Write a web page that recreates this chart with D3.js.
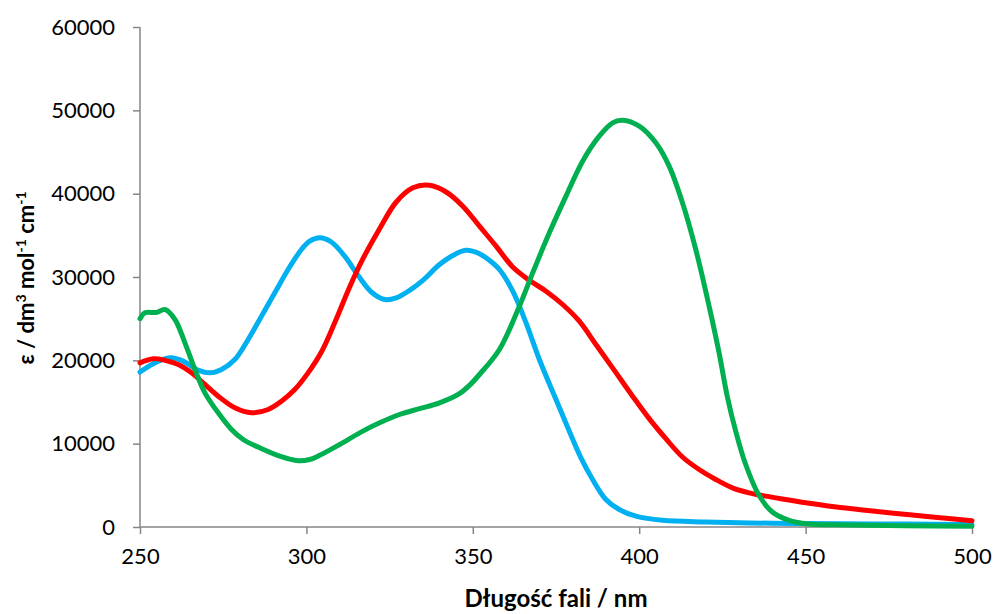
<!DOCTYPE html>
<html><head><meta charset="utf-8">
<script src="https://cdn.jsdelivr.net/npm/d3@7"></script>
<style>body{margin:0;background:#fff}svg{display:block}</style>
</head><body>
<svg id="c" width="993" height="614"></svg>
<script>
const xTicks = [250, 300, 350, 400, 450, 500];
const yTicks = [0, 10000, 20000, 30000, 40000, 50000, 60000];
const xTitle = "Długość fali / nm";

const blueX = [250,254,259,263,267,271,274.5,278.5,282.5,286.5,290.5,294.5,298.5,301,304,307.5,311.5,315.5,319.5,323.5,327,331,335,340,345,348,352,355,358,362,366,370,375,379,382.5,386,390,394,399,407,420,440,460,480,500];
const blueY = [18600,19600,20300,19900,18900,18500,18900,20100,22500,25300,28100,30900,33300,34300,34700,34200,32500,30200,28200,27300,27500,28400,29600,31500,32800,33200,32800,32000,30900,28300,24500,20100,15300,11500,8300,5700,3300,2100,1300,800,600,450,400,350,300];

const redX = [250,254,257.5,261.5,265.5,269.5,273.5,278.5,283.5,288.5,292.5,296.5,300.5,304.5,308.5,313,317,322,327,332,337,342,347,352,357,362,367,372,377,382,387,392,398,403,408,413,418,423,428,433,438,443,450,458,468,478,488,500];
const redY = [19700,20200,20000,19500,18500,17100,15700,14300,13700,14100,15100,16500,18500,21000,24500,28800,32200,35800,39000,40700,41000,40200,38500,36100,33700,31200,29600,28300,26700,24700,21900,19100,15700,13000,10600,8400,6900,5700,4700,4100,3700,3350,2900,2450,2000,1600,1200,750];

const greenX = [250,251.5,255,257.5,260.5,263.5,266.5,269.5,273.5,277.5,281,286,292,297.5,301,304,310,316,322,328,334,340,346,349,352,358,364,368,373,378,383,388,392,395,400,405,409,413,417,421,424,426.5,429,432,436,440,445,450,463,480,500];
const greenY = [25000,25700,25750,26100,24900,22100,18900,16100,13700,11700,10500,9500,8500,7950,8100,8600,9900,11300,12500,13500,14200,14900,16000,17000,18300,21300,26500,30500,35300,39700,43900,46900,48500,48800,48100,46100,43300,38900,33300,26500,20900,15600,11500,7500,3800,1800,800,400,250,150,100];

const svg = d3.select("#c");
const x = d3.scaleLinear().domain([250, 500]).range([140, 972]);
const y = d3.scaleLinear().domain([0, 60000]).range([527, 27]);
const axisColor = "#868686";
const font = "Lato, 'Open Sans', sans-serif";

const ya = svg.append("g").attr("transform", "translate(140,0)")
  .call(d3.axisLeft(y).tickValues(yTicks).tickSize(7).tickPadding(18).tickFormat(d3.format("d")));
const xa = svg.append("g").attr("transform", "translate(0,527)")
  .call(d3.axisBottom(x).tickValues(xTicks).tickSize(7).tickPadding(14).tickFormat(d3.format("d")));
[ya, xa].forEach(a => {
  a.select(".domain").attr("stroke", axisColor).attr("stroke-width", 1.5);
  a.selectAll(".tick line").attr("stroke", axisColor).attr("stroke-width", 1.5);
  a.selectAll(".tick text").attr("fill", "#000").style("font-family", font).style("font-size", "22px");
});
xa.select(".domain").attr("d", "M140,0H972");
ya.select(".domain").attr("d", "M0,527V27");

const line = d3.line().x(d => x(d[0])).y(d => y(d[1])).curve(d3.curveCatmullRom.alpha(0.5));
const series = [
  {xs: blueX, ys: blueY, color: "#00B0F0"},
  {xs: redX, ys: redY, color: "#FF0000"},
  {xs: greenX, ys: greenY, color: "#00B050"}
];
series.forEach(s => {
  svg.append("path").datum(s.xs.map((v, i) => [v, s.ys[i]]))
    .attr("d", line).attr("fill", "none").attr("stroke", s.color)
    .attr("stroke-width", 5).attr("stroke-linejoin", "round").attr("stroke-linecap", "round");
});

svg.append("text").attr("x", 556).attr("y", 607).attr("text-anchor", "middle")
  .style("font-family", font).style("font-weight", "bold").style("font-size", "24px").text(xTitle);

const yt = svg.append("text").attr("transform", "translate(34,278) rotate(-90)").attr("text-anchor", "middle")
  .style("font-family", font).style("font-weight", "bold").style("font-size", "22px");
yt.append("tspan").text("ε / dm");
yt.append("tspan").attr("dy", -8).style("font-size", "14px").text("3");
yt.append("tspan").attr("dy", 8).text(" mol");
yt.append("tspan").attr("dy", -8).style("font-size", "14px").text("-1");
yt.append("tspan").attr("dy", 8).text(" cm");
yt.append("tspan").attr("dy", -8).style("font-size", "14px").text("-1");
</script>
</body></html>
